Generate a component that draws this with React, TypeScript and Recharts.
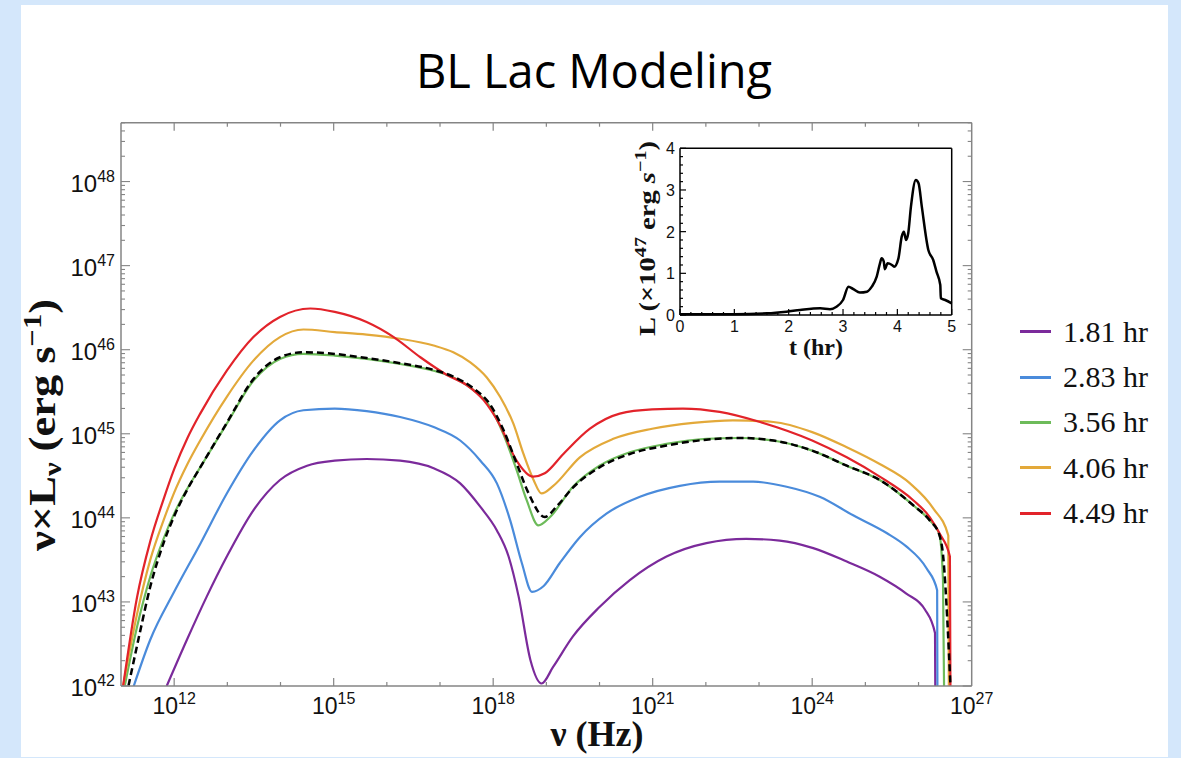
import React from 'react';
import { LineChart, Line, XAxis, YAxis, Legend, Label } from 'recharts';

// log10(nu / Hz) and log10(nu L_nu / erg s^-1)
const nu181 = [11.86, 12.24, 12.61, 12.99, 13.49, 13.99, 14.5, 15.02, 15.62, 16.25, 16.88, 17.38, 17.76, 18.07, 18.29, 18.48, 18.7, 18.91, 19.13, 19.5, 20.0, 20.57, 21.26, 22.01, 22.76, 23.39, 24.02, 24.65, 25.27, 25.77, 26.12, 26.31, 26.315];
const lum181 = [42.0, 42.55, 43.06, 43.54, 44.09, 44.45, 44.62, 44.68, 44.7, 44.68, 44.59, 44.41, 44.13, 43.85, 43.54, 43.06, 42.31, 42.03, 42.23, 42.59, 42.94, 43.26, 43.54, 43.7, 43.75, 43.73, 43.64, 43.48, 43.3, 43.1, 42.91, 42.63, 42.0];

const nu283 = [11.24, 11.55, 12.0, 12.49, 12.99, 13.49, 13.99, 14.43, 15.02, 15.62, 16.25, 16.88, 17.38, 17.76, 18.07, 18.32, 18.54, 18.73, 18.95, 19.25, 19.63, 20.13, 20.76, 21.51, 22.26, 22.89, 23.52, 24.14, 24.77, 25.4, 25.77, 26.15, 26.35, 26.355];
const lum283 = [42.0, 42.55, 43.12, 43.69, 44.29, 44.8, 45.16, 45.28, 45.3, 45.27, 45.2, 45.08, 44.92, 44.68, 44.41, 43.97, 43.46, 43.12, 43.19, 43.46, 43.77, 44.05, 44.25, 44.38, 44.43, 44.43, 44.37, 44.25, 44.03, 43.82, 43.66, 43.4, 43.14, 42.0];

const nu356 = [11.07, 11.3, 11.55, 11.8, 12.0, 12.25, 12.49, 12.99, 13.49, 13.99, 14.43, 15.02, 15.62, 16.25, 16.88, 17.25, 17.63, 17.94, 18.19, 18.44, 18.63, 18.85, 19.07, 19.5, 20.0, 20.57, 21.26, 22.01, 22.64, 23.27, 24.0, 24.65, 25.27, 25.9, 26.21, 26.39, 26.46, 26.48];
const lum356 = [42.0, 42.7, 43.3, 43.75, 44.05, 44.35, 44.6, 45.12, 45.63, 45.89, 45.95, 45.93, 45.89, 45.83, 45.75, 45.67, 45.52, 45.32, 45.0, 44.57, 44.21, 43.91, 44.01, 44.37, 44.62, 44.78, 44.88, 44.94, 44.95, 44.92, 44.8, 44.62, 44.45, 44.15, 43.97, 43.81, 43.26, 42.0];

const nu406 = [11.04, 11.3, 11.55, 11.8, 12.0, 12.25, 12.49, 12.99, 13.49, 13.99, 14.43, 15.02, 15.62, 16.25, 16.88, 17.25, 17.57, 17.88, 18.13, 18.38, 18.57, 18.76, 18.91, 19.13, 19.63, 20.26, 20.99, 21.76, 22.51, 23.27, 24.0, 24.65, 25.27, 25.84, 26.28, 26.56, 26.57];
const lum406 = [42.0, 42.85, 43.5, 43.97, 44.3, 44.64, 44.92, 45.44, 45.87, 46.15, 46.24, 46.21, 46.18, 46.13, 46.05, 45.97, 45.85, 45.67, 45.44, 45.12, 44.76, 44.45, 44.29, 44.38, 44.72, 44.94, 45.06, 45.13, 45.16, 45.14, 45.02, 44.84, 44.64, 44.41, 44.11, 43.79, 42.0];

const nu449 = [11.04, 11.3, 11.55, 11.8, 12.0, 12.25, 12.49, 12.99, 13.49, 13.99, 14.56, 15.02, 15.62, 16.13, 16.63, 17.13, 17.5, 17.82, 18.13, 18.44, 18.75, 18.97, 19.32, 19.82, 20.38, 20.99, 21.57, 22.26, 23.02, 24.0, 24.65, 25.27, 25.9, 26.21, 26.4, 26.59, 26.6];
const lum449 = [42.0, 43.05, 43.72, 44.22, 44.58, 44.95, 45.24, 45.75, 46.15, 46.39, 46.49, 46.45, 46.33, 46.15, 45.91, 45.7, 45.58, 45.4, 45.1, 44.68, 44.49, 44.53, 44.76, 45.06, 45.24, 45.29, 45.3, 45.26, 45.14, 44.92, 44.72, 44.49, 44.21, 44.01, 43.81, 43.54, 42.0];

// dashed black model curve
const nuModel = [11.14, 11.35, 11.55, 11.8, 12.0, 12.25, 12.49, 12.99, 13.49, 13.99, 14.43, 15.02, 15.62, 16.25, 16.88, 17.25, 17.63, 17.94, 18.19, 18.44, 18.66, 18.97, 19.2, 19.5, 20.0, 20.57, 21.26, 22.01, 22.64, 23.27, 24.0, 24.65, 25.27, 25.9, 26.21, 26.39, 26.47, 26.54, 26.6];
const lumModel = [42.0, 42.62, 43.18, 43.7, 44.02, 44.34, 44.6, 45.13, 45.65, 45.91, 45.97, 45.95, 45.9, 45.84, 45.76, 45.68, 45.54, 45.35, 45.05, 44.65, 44.3, 44.01, 44.14, 44.36, 44.6, 44.76, 44.86, 44.93, 44.95, 44.92, 44.8, 44.62, 44.45, 44.15, 43.97, 43.8, 43.5, 42.8, 42.0];

// inset light curve: t (hr) vs L (1e47 erg/s)
const insetT = [0, 1.0, 1.6, 1.96, 2.21, 2.58, 2.76, 2.88, 3.0, 3.1, 3.19, 3.31, 3.44, 3.53, 3.62, 3.68, 3.71, 3.75, 3.77, 3.82, 3.9, 3.94, 4.02, 4.08, 4.12, 4.16, 4.2, 4.25, 4.34, 4.39, 4.45, 4.57, 4.66, 4.72, 4.79, 4.8, 4.88, 5.0];
const insetL = [0.02, 0.02, 0.04, 0.08, 0.12, 0.16, 0.14, 0.2, 0.36, 0.68, 0.62, 0.54, 0.56, 0.68, 0.92, 1.24, 1.36, 1.28, 1.1, 1.24, 1.2, 1.16, 1.36, 1.88, 2.0, 1.8, 1.96, 2.6, 3.24, 3.16, 2.6, 1.56, 1.32, 1.04, 0.72, 0.4, 0.36, 0.28];

const seriesNames = ['1.81 hr', '2.83 hr', '3.56 hr', '4.06 hr', '4.49 hr'];
const seriesColors = ['#7b2a9b', '#4a8bdb', '#6dbb5a', '#e3a93a', '#e2232a'];

const xTickValues = [12, 13, 14, 15, 16, 17, 18, 19, 20, 21, 22, 23, 24, 25, 26, 27];
const xMajor = [12, 15, 18, 21, 24, 27];
const yDecades = [42, 43, 44, 45, 46, 47, 48];
const insetXTicks = [0, 0.2, 0.4, 0.6, 0.8, 1, 1.2, 1.4, 1.6, 1.8, 2, 2.2, 2.4, 2.6, 2.8, 3, 3.2, 3.4, 3.6, 3.8, 4, 4.2, 4.4, 4.6, 4.8, 5];
const insetYTicks = [0, 0.2, 0.4, 0.6, 0.8, 1, 1.2, 1.4, 1.6, 1.8, 2, 2.2, 2.4, 2.6, 2.8, 3, 3.2, 3.4, 3.6, 3.8, 4];

const zip = (xs: number[], ys: number[]) => xs.map((x, i) => ({ x, y: ys[i] }));

const series = [
  zip(nu181, lum181),
  zip(nu283, lum283),
  zip(nu356, lum356),
  zip(nu406, lum406),
  zip(nu449, lum449),
];
const modelData = zip(nuModel, lumModel);
const insetData = zip(insetT, insetL);

// log-spaced minor ticks for the y axis
const yTickValues = yDecades
  .flatMap((n) => [1, 2, 3, 4, 5, 6, 7, 8, 9].map((k) => n + Math.log10(k)))
  .filter((v) => v <= 48.7);

const FRAME = '#858585';
const SANS = 'Liberation Sans, Arial, sans-serif';
const SERIF = 'Liberation Serif, Times New Roman, serif';

const isInt = (v: number) => Math.abs(v - Math.round(v)) < 1e-6;

const BottomTick = (props: any) => {
  const { x, y, payload } = props;
  const v = payload.value;
  const major = xMajor.includes(v);
  return (
    <g>
      {v < 27 && <line x1={x} y1={y} x2={x} y2={y - (major ? 8 : 4)} stroke={FRAME} strokeWidth={1.2} />}
      {major && (
        <text x={x} y={y + 28} textAnchor="middle" fontFamily={SANS} fontSize={23} fill="#111">
          10<tspan dy={-10} fontSize={16}>{v}</tspan>
        </text>
      )}
    </g>
  );
};

const TopTick = (props: any) => {
  const { x, y, payload } = props;
  if (payload.value >= 27) return <g />;
  const major = xMajor.includes(payload.value);
  return <line x1={x} y1={y} x2={x} y2={y + (major ? 8 : 4)} stroke={FRAME} strokeWidth={1.2} />;
};

const LeftTick = (props: any) => {
  const { x, y, payload } = props;
  const v = payload.value;
  const major = isInt(v);
  return (
    <g>
      <line x1={x} y1={y} x2={x + (major ? 9 : 4)} y2={y} stroke={FRAME} strokeWidth={1.1} />
      {major && (
        <text x={x - 6} y={y + 10} textAnchor="end" fontFamily={SANS} fontSize={24} fill="#111">
          10<tspan dy={-10} fontSize={16}>{Math.round(v)}</tspan>
        </text>
      )}
    </g>
  );
};

const RightTick = (props: any) => {
  const { x, y, payload } = props;
  const major = isInt(payload.value);
  return <line x1={x} y1={y} x2={x - (major ? 9 : 4)} y2={y} stroke={FRAME} strokeWidth={1.1} />;
};

const makeInsetTick = (side: 'bottom' | 'top' | 'left' | 'right') => (props: any) => {
  const { x, y, payload } = props;
  const v = payload.value;
  const major = isInt(v);
  const len = major ? 6 : 3;
  let line;
  if (side === 'bottom') line = <line x1={x} y1={y} x2={x} y2={y - len} stroke="#000" strokeWidth={1.2} />;
  else if (side === 'top') line = <line x1={x} y1={y} x2={x} y2={y + len} stroke="#000" strokeWidth={1.2} />;
  else if (side === 'left') line = <line x1={x} y1={y} x2={x + len} y2={y} stroke="#000" strokeWidth={1.2} />;
  else line = <line x1={x} y1={y} x2={x - len} y2={y} stroke="#000" strokeWidth={1.2} />;
  return (
    <g>
      {line}
      {major && side === 'bottom' && (
        <text x={x} y={y + 17} textAnchor="middle" fontFamily={SANS} fontSize={16} fill="#111">
          {Math.round(v)}
        </text>
      )}
      {major && side === 'left' && (
        <text x={x - 5} y={y + 6} textAnchor="end" fontFamily={SANS} fontSize={16} fill="#111">
          {Math.round(v)}
        </text>
      )}
    </g>
  );
};

const renderLegend = () => (
  <div style={{ fontFamily: SERIF, fontSize: 30, color: '#111' }}>
    {seriesNames.map((name, i) => (
      <div key={name} style={{ height: 45.4, display: 'flex', alignItems: 'center' }}>
        <div style={{ width: 31, height: 3, background: seriesColors[i], marginRight: 12 }} />
        <span style={{ lineHeight: '30px' }}>{name}</span>
      </div>
    ))}
  </div>
);

export default function App() {
  return (
    <div style={{ position: 'absolute', left: 0, top: 0, width: 1181, height: 758, background: '#d4e7fb', overflow: 'hidden' }}>
      <div style={{ position: 'absolute', left: 21, top: 5, width: 1147, height: 752, background: '#ffffff' }} />

      <div style={{ position: 'absolute', left: 0, top: 0 }}>
        <LineChart width={1181} height={758} margin={{ top: 121.7, right: 208.3, bottom: 32, left: 61 }}>
          <XAxis
            xAxisId="b"
            type="number"
            dataKey="x"
            domain={[11, 27]}
            ticks={xTickValues}
            interval={0}
            tickSize={0}
            tickMargin={0}
            tick={BottomTick}
            height={40}
            axisLine={{ stroke: FRAME, strokeWidth: 1.5 }}
            allowDataOverflow
          >
            <Label
              content={() => (
                <text x={597} y={746} textAnchor="middle" fontFamily={SERIF} fontWeight="bold" fontSize={36} fill="#111">
                  ν (Hz)
                </text>
              )}
            />
          </XAxis>
          <XAxis
            xAxisId="t"
            orientation="top"
            type="number"
            dataKey="x"
            domain={[11, 27]}
            ticks={xTickValues}
            interval={0}
            tickSize={0}
            tickMargin={0}
            tick={TopTick}
            height={1}
            axisLine={{ stroke: FRAME, strokeWidth: 1.5 }}
            allowDataOverflow
          >
            <Label
              content={() => (
                <text x={594} y={88} textAnchor="middle" fontFamily="Open Sans, sans-serif" fontSize={47} fill="#000">
                  BL Lac Modeling
                </text>
              )}
            />
          </XAxis>
          <YAxis
            yAxisId="l"
            type="number"
            domain={[42, 48.7]}
            ticks={yTickValues}
            interval={0}
            tickSize={0}
            tickMargin={0}
            tick={LeftTick}
            width={60}
            axisLine={{ stroke: FRAME, strokeWidth: 1.5 }}
            allowDataOverflow
          >
            <Label
              content={() => (
                <text
                  x={55}
                  y={425}
                  transform="rotate(-90 55 425)"
                  textAnchor="middle"
                  fontFamily={SERIF}
                  fontWeight="bold"
                  fontSize={38}
                  fill="#111"
                  textLength={252}
                  lengthAdjust="spacingAndGlyphs"
                >
                  ν×L<tspan dy={6} fontSize={26}>ν</tspan>
                  <tspan dy={-6}> (erg s</tspan>
                  <tspan dy={-14} fontSize={26}>−1</tspan>
                  <tspan dy={14}>)</tspan>
                </text>
              )}
            />
          </YAxis>
          <YAxis
            yAxisId="r"
            orientation="right"
            type="number"
            domain={[42, 48.7]}
            ticks={yTickValues}
            interval={0}
            tickSize={0}
            tickMargin={0}
            tick={RightTick}
            width={1}
            axisLine={{ stroke: FRAME, strokeWidth: 1.5 }}
            allowDataOverflow
          />
          {series.map((d, i) => (
            <Line
              key={seriesNames[i]}
              xAxisId="b"
              yAxisId="l"
              data={d}
              dataKey="y"
              name={seriesNames[i]}
              type="monotone"
              stroke={seriesColors[i]}
              strokeWidth={2.2}
              dot={false}
              activeDot={false}
              isAnimationActive={false}
            />
          ))}
          <Line
            xAxisId="b"
            yAxisId="l"
            data={modelData}
            dataKey="y"
            name="model"
            type="monotone"
            stroke="#000"
            strokeWidth={2.5}
            strokeDasharray="7 4"
            dot={false}
            activeDot={false}
            legendType="none"
            isAnimationActive={false}
          />
          <Legend
            layout="vertical"
            align="center"
            verticalAlign="middle"
            wrapperStyle={{ left: 1020, top: 309, width: 160, height: 230 }}
            content={renderLegend}
          />
        </LineChart>
      </div>

      <div style={{ position: 'absolute', left: 600, top: 130 }}>
        <LineChart width={370} height={240} margin={{ top: 17.3, right: 17.3, bottom: 15, left: 40 }}>
          <XAxis
            xAxisId="b"
            type="number"
            dataKey="x"
            domain={[0, 5]}
            ticks={insetXTicks}
            interval={0}
            tickSize={0}
            tickMargin={0}
            tick={makeInsetTick('bottom')}
            height={40}
            axisLine={{ stroke: '#000', strokeWidth: 1.5 }}
          >
            <Label
              content={() => (
                <text x={216} y={224.5} textAnchor="middle" fontFamily={SERIF} fontWeight="bold" fontSize={24} fill="#111">
                  t (hr)
                </text>
              )}
            />
          </XAxis>
          <XAxis
            xAxisId="t"
            orientation="top"
            type="number"
            dataKey="x"
            domain={[0, 5]}
            ticks={insetXTicks}
            interval={0}
            tickSize={0}
            tickMargin={0}
            tick={makeInsetTick('top')}
            height={1}
            axisLine={{ stroke: '#000', strokeWidth: 1.5 }}
          />
          <YAxis
            yAxisId="l"
            type="number"
            domain={[0, 4]}
            ticks={insetYTicks}
            interval={0}
            tickSize={0}
            tickMargin={0}
            tick={makeInsetTick('left')}
            width={40}
            axisLine={{ stroke: '#000', strokeWidth: 1.5 }}
          >
            <Label
              content={() => (
                <text
                  x={55}
                  y={108.5}
                  transform="rotate(-90 55 108.5)"
                  textAnchor="middle"
                  fontFamily={SERIF}
                  fontWeight="bold"
                  fontSize={24}
                  fill="#111"
                  textLength={195}
                  lengthAdjust="spacingAndGlyphs"
                >
                  L (×10<tspan dy={-9} fontSize={17}>47</tspan>
                  <tspan dy={9}> erg </tspan>
                  <tspan fontStyle="italic">s</tspan>
                  <tspan dy={-9} fontSize={17}>−1</tspan>
                  <tspan dy={9}>)</tspan>
                </text>
              )}
            />
          </YAxis>
          <YAxis
            yAxisId="r"
            orientation="right"
            type="number"
            domain={[0, 4]}
            ticks={insetYTicks}
            interval={0}
            tickSize={0}
            tickMargin={0}
            tick={makeInsetTick('right')}
            width={1}
            axisLine={{ stroke: '#000', strokeWidth: 1.5 }}
          />
          <Line
            xAxisId="b"
            yAxisId="l"
            data={insetData}
            dataKey="y"
            type="monotone"
            stroke="#000"
            strokeWidth={2.5}
            dot={false}
            activeDot={false}
            isAnimationActive={false}
          />
        </LineChart>
      </div>
    </div>
  );
}
